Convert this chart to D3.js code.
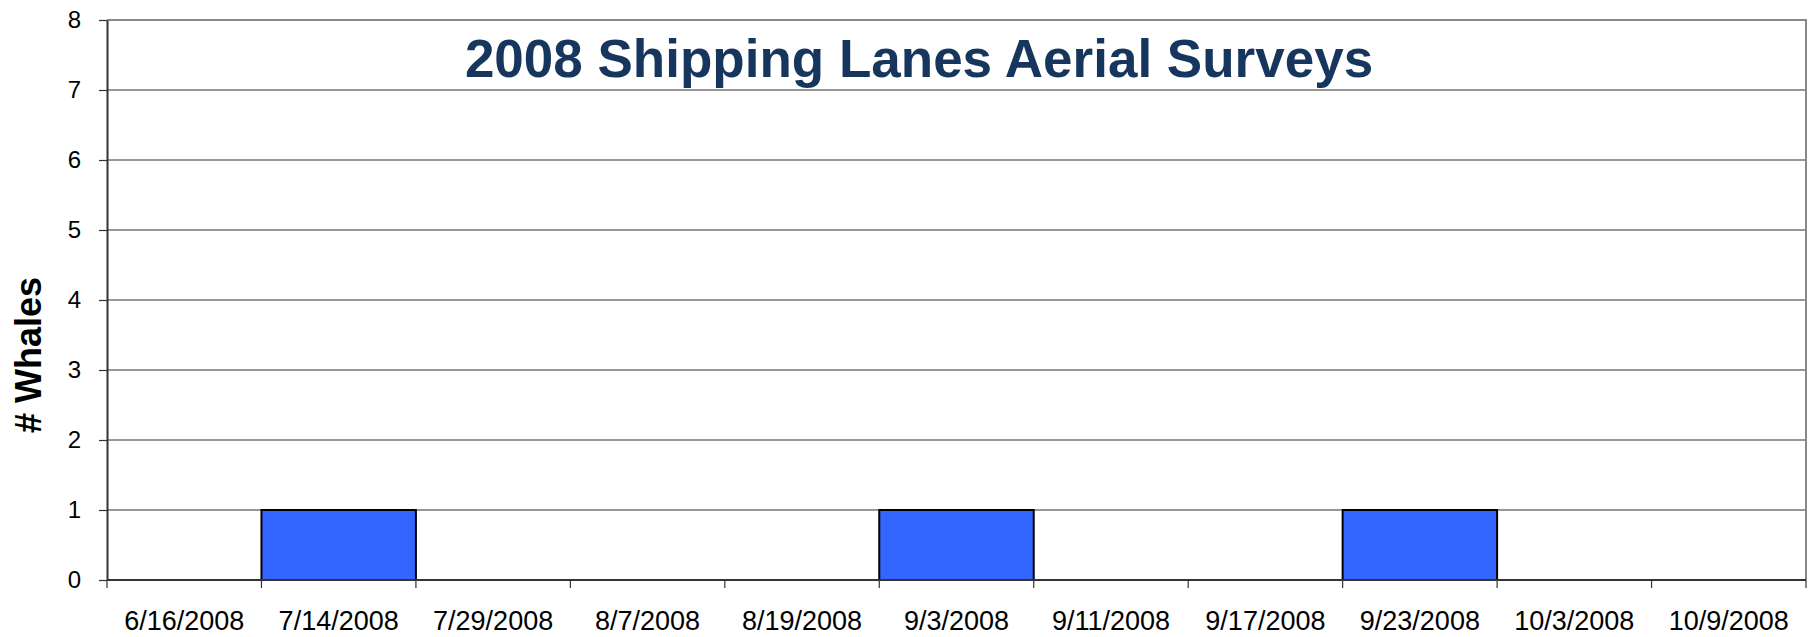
<!DOCTYPE html>
<html>
<head>
<meta charset="utf-8">
<script src="https://cdn.jsdelivr.net/npm/d3@7"></script>
<style>
  body { margin: 0; background: #fff; }
  svg { display: block; font-family: "Liberation Sans", Arial, sans-serif; }
</style>
</head>
<body>
<svg id="chart"></svg>
<script>
// data
const dates = ["6/16/2008", "7/14/2008", "7/29/2008", "8/7/2008", "8/19/2008", "9/3/2008",
               "9/11/2008", "9/17/2008", "9/23/2008", "10/3/2008", "10/9/2008"];
const whales = [0, 1, 0, 0, 0, 1, 0, 0, 1, 0, 0];
const yTicks = [0, 1, 2, 3, 4, 5, 6, 7, 8];

const W = 1809, H = 637;
const margin = {top: 20, right: 3, bottom: 57, left: 107};

const svg = d3.select("#chart").attr("width", W).attr("height", H);

const x = d3.scaleBand()
    .domain(dates)
    .range([margin.left, W - margin.right])
    .padding(0);

const y = d3.scaleLinear()
    .domain([0, 8])
    .range([H - margin.bottom, margin.top]);

// horizontal gridlines
svg.append("g")
  .selectAll("line")
  .data(yTicks.filter(d => d > 0 && d < 8))
  .join("line")
    .attr("x1", margin.left).attr("x2", W - margin.right)
    .attr("y1", d => y(d)).attr("y2", d => y(d))
    .attr("stroke", "#333").attr("stroke-width", 1.2);

// top and right border (grey)
svg.append("path")
    .attr("d", `M${margin.left},${y(8)}H${W - margin.right}V${y(0)}`)
    .attr("fill", "none")
    .attr("stroke", "#888").attr("stroke-width", 2);

// bars
svg.append("g")
  .selectAll("rect")
  .data(dates.map((d, i) => ({date: d, value: whales[i]})).filter(d => d.value > 0))
  .join("rect")
    .attr("x", d => x(d.date))
    .attr("y", d => y(d.value))
    .attr("width", x.bandwidth())
    .attr("height", d => y(0) - y(d.value))
    .attr("fill", "#3366FF")
    .attr("stroke", "#000").attr("stroke-width", 2);

// y axis
const yAxis = svg.append("g")
    .attr("transform", `translate(${margin.left},0)`)
    .call(d3.axisLeft(y).tickValues(yTicks).tickSize(8).tickPadding(18).tickSizeOuter(0));
yAxis.select(".domain").attr("stroke", "#333").attr("stroke-width", 2);
yAxis.selectAll(".tick line").attr("stroke", "#333").attr("stroke-width", 1.2);
yAxis.selectAll(".tick text")
    .attr("font-size", 24).attr("fill", "#000")
    .attr("font-family", "'Liberation Sans', Arial, sans-serif");

// x axis: ticks on band boundaries
const xAxis = svg.append("g")
    .attr("transform", `translate(0,${y(0)})`);
xAxis.append("line")
    .attr("x1", margin.left).attr("x2", W - margin.right)
    .attr("stroke", "#333").attr("stroke-width", 2);
xAxis.selectAll("line.tk")
  .data(dates.concat([null]))
  .join("line")
    .attr("class", "tk")
    .attr("x1", (d, i) => margin.left + i * x.step())
    .attr("x2", (d, i) => margin.left + i * x.step())
    .attr("y1", 0).attr("y2", 8)
    .attr("stroke", "#333").attr("stroke-width", 1.2);
xAxis.selectAll("text")
  .data(dates)
  .join("text")
    .attr("x", d => x(d) + x.bandwidth() / 2)
    .attr("y", 50)
    .attr("text-anchor", "middle")
    .attr("font-size", 27)
    .attr("fill", "#000")
    .text(d => d);

// y axis title
svg.append("text")
    .attr("transform", `translate(41,355) rotate(-90)`)
    .attr("text-anchor", "middle")
    .attr("font-size", 36)
    .attr("font-weight", "bold")
    .attr("fill", "#000")
    .text("# Whales");

// chart title
svg.append("text")
    .attr("x", 919)
    .attr("y", 77)
    .attr("text-anchor", "middle")
    .attr("font-size", 53)
    .attr("font-weight", "bold")
    .attr("fill", "#17365D")
    .text("2008 Shipping Lanes Aerial Surveys");
</script>
</body>
</html>
